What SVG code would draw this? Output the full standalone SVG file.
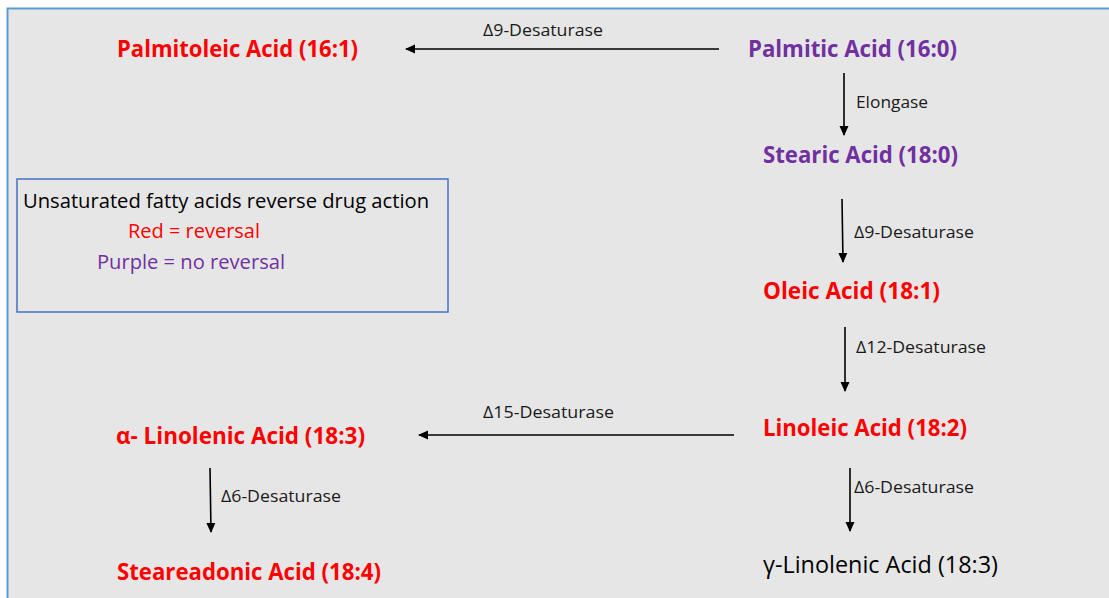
<svg xmlns="http://www.w3.org/2000/svg" width="1109" height="598" viewBox="0 0 1109 598">
  <style>
    text { font-family: "Open Sans", "Liberation Sans", sans-serif; }
    .node { font-size: 23.5px; font-weight: bold; }
    .red { fill: #ff0000; }
    .purple { fill: #7030a0; }
    .plain { font-size: 24px; fill: #000; }
    .lbl { font-size: 16px; fill: #1a1a1a; }
    .leg { font-size: 20px; }
    .conn { stroke: #000; stroke-width: 1.6; fill: none; marker-end: url(#ah); }
  </style>
  <defs>
    <marker id="ah" markerUnits="userSpaceOnUse" markerWidth="10" markerHeight="10" viewBox="0 0 10 10" refX="9" refY="5" orient="auto">
      <path d="M0,0.5 L10,5 L0,9.5 z" fill="#000"/>
    </marker>
  </defs>
  <rect x="0" y="0" width="1109" height="598" fill="#ffffff"/>
  <rect x="7.5" y="8.5" width="1120" height="600" fill="#e7e6e6" stroke="#5b9bd5" stroke-width="2"/>

  <g id="connectors">
    <line class="conn" x1="719" y1="49" x2="406" y2="49"/>
    <line class="conn" x1="844" y1="73" x2="844" y2="135"/>
    <line class="conn" x1="842" y1="199" x2="843" y2="262"/>
    <line class="conn" x1="845" y1="327" x2="845" y2="391"/>
    <line class="conn" x1="734" y1="435" x2="419" y2="435"/>
    <line class="conn" x1="210" y1="468" x2="211" y2="532"/>
    <line class="conn" x1="850" y1="468" x2="850" y2="531"/>
    <g id="labels">
      <text class="lbl" x="483" y="36" textLength="120" lengthAdjust="spacingAndGlyphs">Δ9-Desaturase</text>
      <text class="lbl" x="856" y="108" textLength="72" lengthAdjust="spacingAndGlyphs">Elongase</text>
      <text class="lbl" x="854" y="238" textLength="120" lengthAdjust="spacingAndGlyphs">Δ9-Desaturase</text>
      <text class="lbl" x="856" y="353" textLength="130" lengthAdjust="spacingAndGlyphs">Δ12-Desaturase</text>
      <text class="lbl" x="483" y="418" textLength="131" lengthAdjust="spacingAndGlyphs">Δ15-Desaturase</text>
      <text class="lbl" x="221" y="502" textLength="120" lengthAdjust="spacingAndGlyphs">Δ6-Desaturase</text>
      <text class="lbl" x="854" y="493" textLength="120" lengthAdjust="spacingAndGlyphs">Δ6-Desaturase</text>
    </g>
  </g>

  <g id="palmitoleic"><text class="node red" x="117" y="57" textLength="241" lengthAdjust="spacingAndGlyphs">Palmitoleic Acid (16:1)</text></g>
  <g id="palmitic"><text class="node purple" x="748" y="57" textLength="209" lengthAdjust="spacingAndGlyphs">Palmitic Acid (16:0)</text></g>
  <g id="stearic"><text class="node purple" x="763" y="163" textLength="195" lengthAdjust="spacingAndGlyphs">Stearic Acid (18:0)</text></g>
  <g id="oleic"><text class="node red" x="763" y="299" textLength="177" lengthAdjust="spacingAndGlyphs">Oleic Acid (18:1)</text></g>
  <g id="linoleic"><text class="node red" x="763" y="436" textLength="204" lengthAdjust="spacingAndGlyphs">Linoleic Acid (18:2)</text></g>
  <g id="alpha-linolenic"><text class="node red" x="116" y="444" textLength="249" lengthAdjust="spacingAndGlyphs">α- Linolenic Acid (18:3)</text></g>
  <g id="steareadonic"><text class="node red" x="117" y="580" textLength="264" lengthAdjust="spacingAndGlyphs">Steareadonic Acid (18:4)</text></g>
  <g id="gamma-linolenic"><text class="plain" x="763" y="573" textLength="235" lengthAdjust="spacingAndGlyphs">γ-Linolenic Acid (18:3)</text></g>

  <g id="legend">
    <rect x="17" y="179" width="431" height="133" fill="none" stroke="#4472c4" stroke-width="1.5"/>
    <text class="leg" x="23" y="208" fill="#000" textLength="406" lengthAdjust="spacingAndGlyphs">Unsaturated fatty acids reverse drug action</text>
    <text class="leg" x="128" y="238" fill="#ff0000" textLength="132" lengthAdjust="spacingAndGlyphs">Red = reversal</text>
    <text class="leg" x="97" y="269" fill="#7030a0" textLength="188" lengthAdjust="spacingAndGlyphs">Purple = no reversal</text>
  </g>
</svg>
